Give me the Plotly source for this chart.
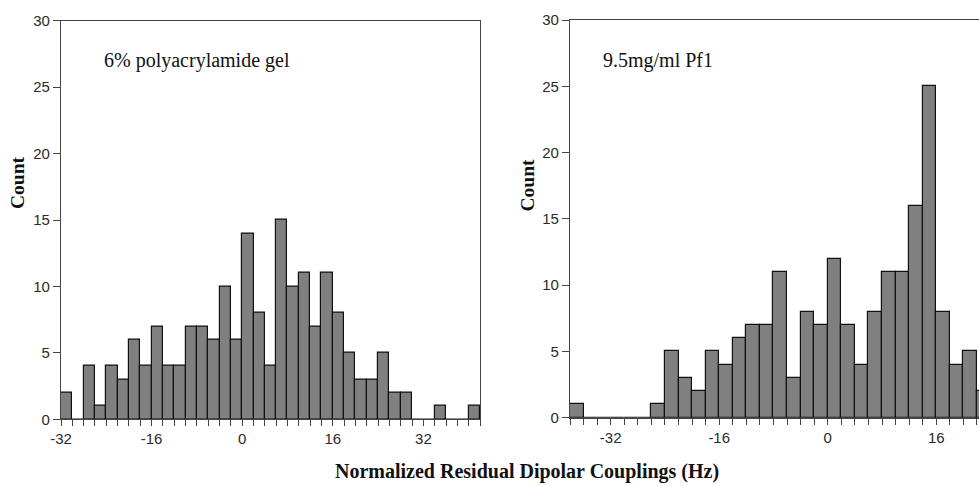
import plotly.graph_objects as go

# ---- data ----
gel_bin_centers = [-31, -29, -27, -25, -23, -21, -19, -17, -15, -13, -11, -9, -7, -5, -3, -1,
                   1, 3, 5, 7, 9, 11, 13, 15, 17, 19, 21, 23, 25, 27, 29, 31, 33, 35, 37, 39, 41]
gel_counts = [2, 0, 4, 1, 4, 3, 6, 4, 7, 4, 4, 7, 7, 6, 10, 6,
              14, 8, 4, 15, 10, 11, 7, 11, 8, 5, 3, 3, 5, 2, 2, 0, 0, 1, 0, 0, 1]

pf1_bin_centers = [-37, -35, -33, -31, -29, -27, -25, -23, -21, -19, -17, -15, -13, -11, -9, -7,
                   -5, -3, -1, 1, 3, 5, 7, 9, 11, 13, 15, 17, 19, 21, 23]
pf1_counts = [1, 0, 0, 0, 0, 0, 1, 5, 3, 2, 5, 4, 6, 7, 7, 11,
              3, 8, 7, 12, 7, 4, 8, 11, 11, 16, 25, 8, 4, 5, 2]

gel_tickvals = list(range(-32, 43, 2))
pf1_tickvals = list(range(-38, 23, 2))
major_labels = {-32: "-32", -16: "-16", 0: "0", 16: "16", 32: "32"}
y_tickvals = [0, 5, 10, 15, 20, 25, 30]

panel_titles = ["6% polyacrylamide gel", "9.5mg/ml Pf1"]
y_title = "Count"
x_title = "Normalized Residual Dipolar Couplings (Hz)"

# ---- figure ----
W, H = 979, 486
fig = go.Figure()

bar_style = dict(marker=dict(color="#808080", line=dict(color="#111111", width=1.2)),
                 width=2, showlegend=False, hoverinfo="skip")
fig.add_trace(go.Bar(x=gel_bin_centers, y=gel_counts, xaxis="x", yaxis="y", **bar_style))
fig.add_trace(go.Bar(x=pf1_bin_centers, y=pf1_counts, xaxis="x2", yaxis="y2", **bar_style))

tickfont = dict(family="Liberation Sans, Arial, sans-serif", size=15, color="#2a2a2a")
axcol = "#444444"

def xax(domain, rng, tv, anchor):
    return dict(domain=domain, range=rng, anchor=anchor, automargin=False,
                tickmode="array", tickvals=tv,
                ticktext=[major_labels.get(v, "") for v in tv],
                ticks="outside", ticklen=6, tickwidth=1.2, tickcolor=axcol,
                showline=True, linecolor=axcol, linewidth=1.2, mirror=True,
                showgrid=False, zeroline=False, tickfont=tickfont, fixedrange=True)

def yax(domain, anchor, mirror):
    return dict(domain=domain, range=[0, 30], anchor=anchor, automargin=False,
                tickmode="array", tickvals=y_tickvals,
                ticks="outside", ticklen=7, tickwidth=1.2, tickcolor=axcol,
                showline=True, linecolor=axcol, linewidth=1.2, mirror=mirror,
                showgrid=False, zeroline=False, tickfont=tickfont, fixedrange=True)

fig.update_layout(
    template="none",
    width=W, height=H,
    margin=dict(l=0, r=0, t=0, b=0, autoexpand=False),
    paper_bgcolor="white", plot_bgcolor="white",
    bargap=0,
    xaxis=xax([61 / W, 480 / W], [-32, 42], gel_tickvals, "y"),
    yaxis=yax([1 - 419.3 / H, 1 - 20.7 / H], "x", True),
    xaxis2=xax([570 / W, 1.0], [-38, 22.3], pf1_tickvals, "y2"),
    yaxis2=yax([1 - 417.7 / H, 1 - 20 / H], "x2", False),
)

serif = "Liberation Serif, Times New Roman, serif"
ann = []
ann.append(dict(text=panel_titles[0], x=197 / W, y=1 - 60 / H, xref="paper", yref="paper",
                showarrow=False, font=dict(family=serif, size=20, color="#111111"),
                xanchor="center", yanchor="middle"))
ann.append(dict(text=panel_titles[1], x=658 / W, y=1 - 60 / H, xref="paper", yref="paper",
                showarrow=False, font=dict(family=serif, size=20, color="#111111"),
                xanchor="center", yanchor="middle"))
ann.append(dict(text="<b>%s</b>" % y_title, x=17.5 / W, y=1 - 182.5 / H, xref="paper", yref="paper",
                showarrow=False, textangle=-90, font=dict(family=serif, size=19.5, color="#111111"),
                xanchor="center", yanchor="middle"))
ann.append(dict(text="<b>%s</b>" % y_title, x=526.5 / W, y=1 - 185 / H, xref="paper", yref="paper",
                showarrow=False, textangle=-90, font=dict(family=serif, size=19.5, color="#111111"),
                xanchor="center", yanchor="middle"))
ann.append(dict(text="<b>%s</b>" % x_title, x=527 / W, y=1 - 471 / H, xref="paper", yref="paper",
                showarrow=False, font=dict(family=serif, size=20, color="#111111"),
                xanchor="center", yanchor="middle"))
fig.update_layout(annotations=ann)

fig.write_html("out.html", config={"displayModeBar": False})
